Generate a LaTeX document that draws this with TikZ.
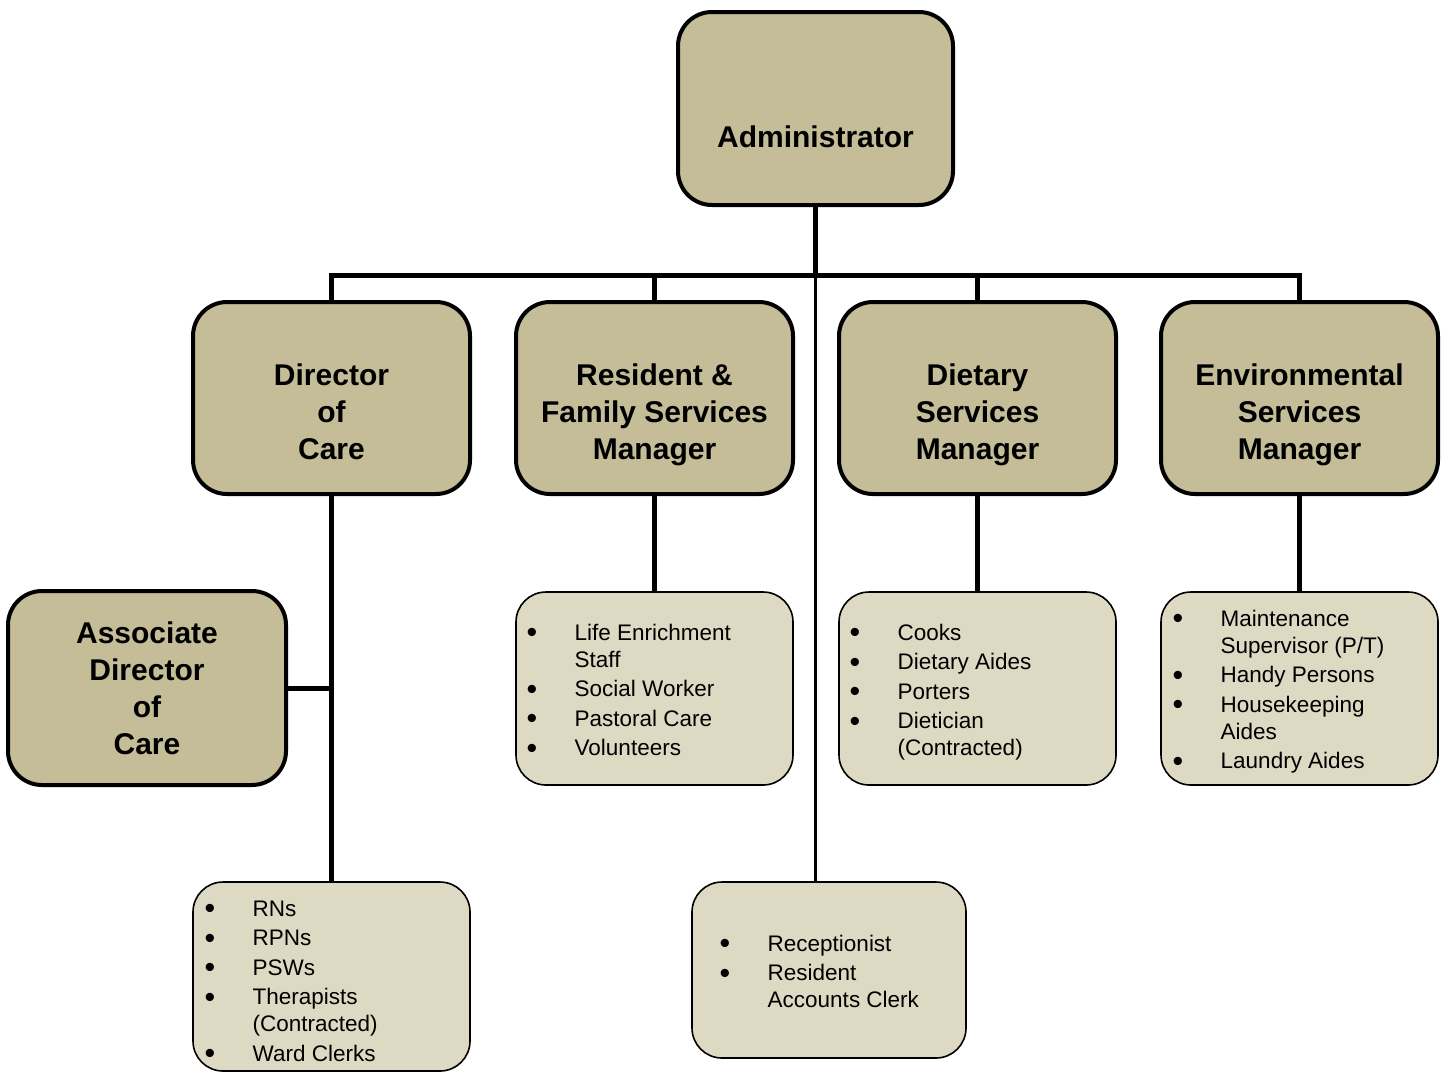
\documentclass[tikz,border=0pt]{standalone}
\usepackage{fontspec}
\setmainfont{Liberation Sans}
\usetikzlibrary{calc}
\definecolor{mgrfill}{HTML}{C4BD97}
\definecolor{lstfill}{HTML}{DDD9C3}
\tikzset{
  x=1pt, y=1pt,
  mgrbox/.style={draw=black, line width=4pt, fill=mgrfill, rounded corners=34pt, inner sep=0pt},
  lstbox/.style={draw=black, line width=1.6pt, fill=lstfill, rounded corners=30pt, inner sep=0pt},
  mgrtext/.style={align=center, inner sep=0pt, font=\bfseries\fontsize{30}{37}\selectfont},
  lsttext/.style={anchor=base west, inner sep=0pt, font=\fontsize{22.5}{27}\selectfont},
  thickconn/.style={line width=5pt},
  thinconn/.style={line width=2.4pt}
}
\newcommand{\bul}{\raisebox{-2.6pt}{\scalebox{1.35}{\textbullet}}}
\newenvironment{blist}{\begin{tabular}[t]{@{}p{48pt}@{}l@{}}}{\end{tabular}}
\begin{document}
\begin{tikzpicture}
\useasboundingbox (0,0) rectangle (1445,-1072);
% boxes
\node[mgrbox, minimum width=275pt, minimum height=193pt] (admin) at (815.5,-108.5) {};
\node[mgrbox, minimum width=277pt, minimum height=192pt] (dir) at (331.5,-398) {};
\node[mgrbox, minimum width=277pt, minimum height=192pt] (rfs) at (654.5,-398) {};
\node[mgrbox, minimum width=277pt, minimum height=192pt] (diet) at (977.5,-398) {};
\node[mgrbox, minimum width=277pt, minimum height=192pt] (env) at (1299.5,-398) {};
\node[mgrbox, minimum width=278pt, minimum height=194pt] (assoc) at (147,-688) {};
\node[lstbox, minimum width=277pt, minimum height=193pt] (rfsl) at (654.5,-688.5) {};
\node[lstbox, minimum width=277pt, minimum height=193pt] (dietl) at (977.5,-688.5) {};
\node[lstbox, minimum width=277pt, minimum height=193pt] (envl) at (1299.5,-688.5) {};
\node[lstbox, minimum width=277pt, minimum height=189pt] (nurse) at (331.5,-976.5) {};
\node[lstbox, minimum width=274pt, minimum height=176pt] (recep) at (829,-970) {};
% connectors
\coordinate (bus) at (815.5,-275);
\draw[thickconn] (admin.south) -- (bus);
\draw[thickconn] (dir.north) |- (bus) -| (env.north);
\draw[thickconn] (rfs.north) -- (rfs.north |- bus);
\draw[thickconn] (diet.north) -- (diet.north |- bus);
\draw[thinconn] (bus) -- (bus |- recep.north);
\draw[thickconn] (dir.south) -- (nurse.north);
\draw[thickconn] (assoc.east) -- (assoc.east -| dir.south);
\draw[thickconn] (rfs.south) -- (rfsl.north);
\draw[thickconn] (diet.south) -- (dietl.north);
\draw[thickconn] (env.south) -- (envl.north);
% manager texts
\node[mgrtext] (admint) at (815.5,-137) {Administrator};
\node[mgrtext] (dirt) at (331.5,-412) {Director\\of\\Care};
\node[mgrtext] (rfst) at (654.5,-415) {Resident \&\\Family Services\\Manager};
\node[mgrtext] (dietxt) at (977.5,-415) {Dietary\\Services\\Manager};
\node[mgrtext] (envt) at (1299.5,-415) {Environmental\\Services\\Manager};
\node[mgrtext] (assoct) at (147,-688) {Associate\\Director\\of\\Care};
% list texts
\node[lsttext] (rfslt) at (526.5,-640) {\begin{blist}
\bul & Life Enrichment\\ & Staff\\[2.5pt]
\bul & Social Worker\\[2.5pt]
\bul & Pastoral Care\\[2.5pt]
\bul & Volunteers
\end{blist}};
\node[lsttext] (dietlt) at (849.5,-640) {\begin{blist}
\bul & Cooks\\[2.5pt]
\bul & Dietary Aides\\[2.5pt]
\bul & Porters\\[2.5pt]
\bul & Dietician\\ & (Contracted)
\end{blist}};
\node[lsttext] (envlt) at (1172.5,-626) {\begin{blist}
\bul & Maintenance\\ & Supervisor (P/T)\\[2.5pt]
\bul & Handy Persons\\[2.5pt]
\bul & Housekeeping\\ & Aides\\[2.5pt]
\bul & Laundry Aides
\end{blist}};
\node[lsttext] (nurset) at (204.5,-916) {\begin{blist}
\bul & RNs\\[2.5pt]
\bul & RPNs\\[2.5pt]
\bul & PSWs\\[2.5pt]
\bul & Therapists\\ & (Contracted)\\[2.5pt]
\bul & Ward Clerks
\end{blist}};
\node[lsttext] (recept) at (719.5,-951) {\begin{blist}
\bul & Receptionist\\[2.5pt]
\bul & Resident\\ & Accounts Clerk
\end{blist}};
\end{tikzpicture}
\end{document}
